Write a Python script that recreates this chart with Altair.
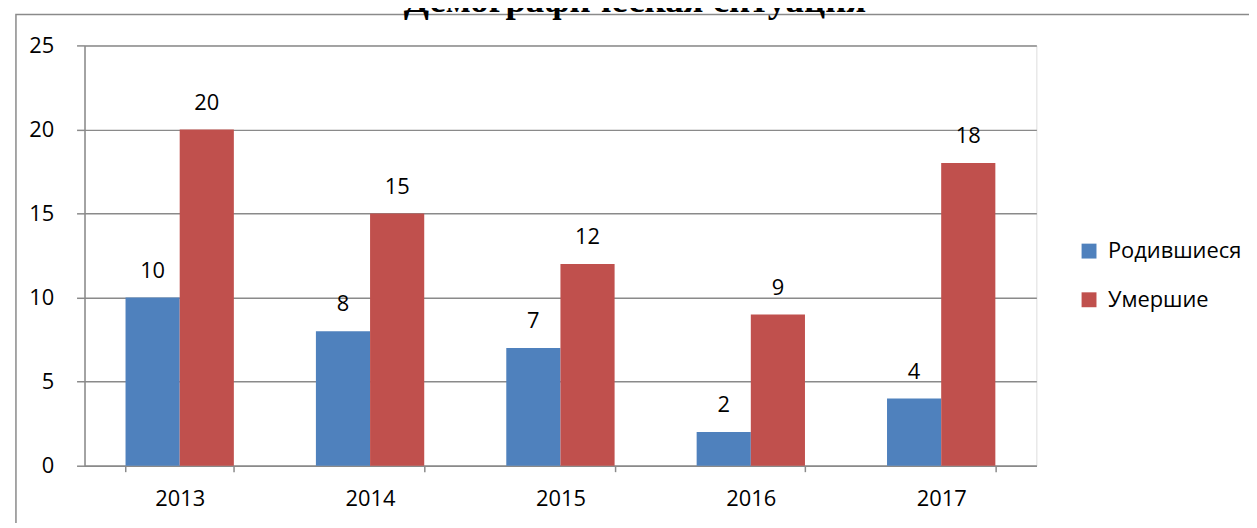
import altair as alt
import pandas as pd

years = ["2013", "2014", "2015", "2016", "2017"]
born = [10, 8, 7, 2, 4]
died = [20, 15, 12, 9, 18]
series = ["Родившиеся", "Умершие"]
colors = ["#4F81BD", "#C0504D"]
title_text = "Демографическая ситуация"

rows = []
for y, b, d in zip(years, born, died):
    rows.append({"year": y, "series": series[0], "value": b})
    rows.append({"year": y, "series": series[1], "value": d})
df = pd.DataFrame(rows)

FONT = "Open Sans"
GRID = "#8a8a8a"

x_enc = alt.X("year:N", sort=years, title=None,
              scale=alt.Scale(paddingInner=0.431, paddingOuter=0.2155),
              axis=alt.Axis(labelAngle=0, labelFont=FONT, labelFontSize=22, labelColor="black",
                            domainColor=GRID, domainWidth=1.5, tickColor=GRID, tickWidth=1.5,
                            tickSize=6, tickBand="extent", labelPadding=17, grid=False))
y_enc = alt.Y("value:Q", title=None,
              scale=alt.Scale(domain=[0, 25], nice=False),
              axis=alt.Axis(values=[0, 5, 10, 15, 20, 25], labelFont=FONT, labelFontSize=22,
                            labelColor="black", domainColor=GRID, domainWidth=1.5,
                            tickColor=GRID, tickWidth=1.5, tickSize=8, labelPadding=23,
                            gridColor=GRID, gridWidth=1.5))
xoff = alt.XOffset("series:N", sort=series, scale=alt.Scale(paddingInner=0, paddingOuter=0))

base = alt.Chart(df)

bars = base.mark_bar().encode(
    x=x_enc, y=y_enc, xOffset=xoff,
    color=alt.Color("series:N", sort=series,
                    scale=alt.Scale(domain=series, range=colors),
                    legend=alt.Legend(title=None, orient="none", legendX=1000, legendY=196,
                                      labelFont=FONT, labelFontSize=22, labelColor="black",
                                      symbolType="square", symbolSize=225, symbolStrokeWidth=0,
                                      rowPadding=27, labelOffset=8)),
)

labels = base.mark_text(font=FONT, fontSize=22, color="black", baseline="alphabetic", dy=-20).encode(
    x=alt.X("year:N", sort=years), y="value:Q", xOffset=xoff, text="value:Q"
)

frame = alt.Chart(alt.Data(values=[{}])).mark_rect(
    fill=None, stroke=GRID, strokeWidth=1.5
).encode(x=alt.value(-69), x2=alt.value(1400), y=alt.value(-31), y2=alt.value(800))

title = alt.Chart(alt.Data(values=[{"t": title_text}])).mark_text(
    font="Liberation Serif", fontSize=37, fontWeight="bold", color="black",
    baseline="alphabetic", align="center"
).encode(x=alt.value(554), y=alt.value(-34), text="t:N")

chart = alt.layer(frame, bars, labels, title).properties(
    width=958, height=423,
    padding={"left": 77, "top": 36, "right": 214, "bottom": 56},
    autosize=alt.AutoSizeParams(type="none"),
).configure_view(stroke=None).configure(background="white")

chart.save("out.html", embed_options={"renderer": "svg", "actions": False})
